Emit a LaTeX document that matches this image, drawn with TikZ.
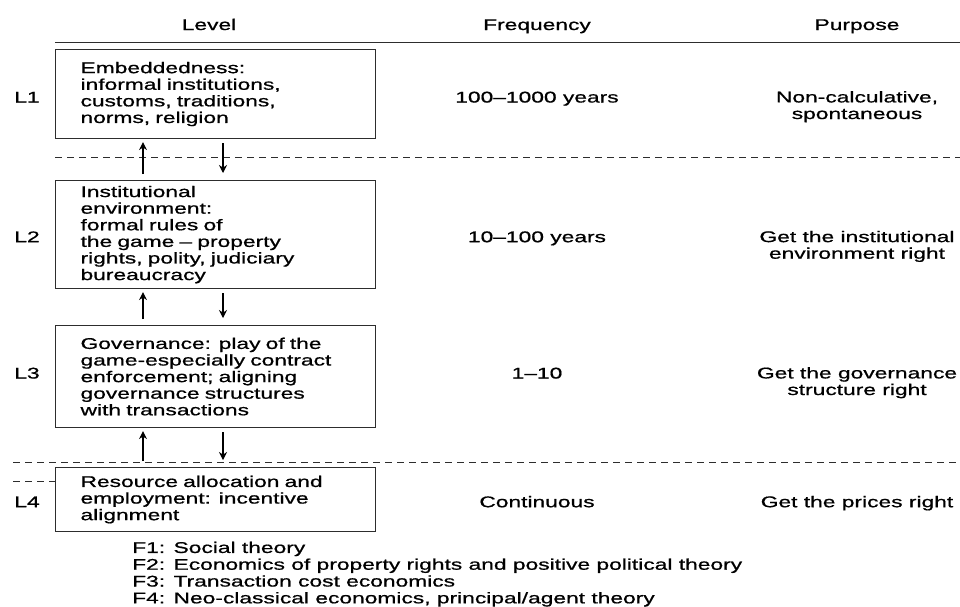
\documentclass[tikz,border=0pt]{standalone}
\usepackage{fontspec}
\setmainfont{Liberation Sans}[FakeStretch=1.47,FakeBold=0.8]
\usetikzlibrary{arrows.meta,calc,positioning}
\definecolor{rulecol}{RGB}{45,45,45}

\begin{document}
\begin{tikzpicture}[x=1pt,y=-1pt,
  every node/.style={font=\fontsize{15.5pt}{16.6pt}\selectfont,inner sep=0pt},
  levelbox/.style={draw=rulecol,line width=1.1pt,anchor=north west,
    minimum width=320pt,text width=270pt,inner xsep=25pt,align=left},
  cell/.style={anchor=base},
  flow/.style={-{Stealth[length=8pt,width=8pt]},line width=1.1pt}]
\useasboundingbox (0,0) rectangle (960,606);
% column heads
\node[cell] (hlevel) at (209,30) {Level};
\node[cell] (hfreq) at (537,30) {Frequency};
\node[cell] (hpurp) at (857,30) {Purpose};
\draw[rulecol,line width=0.9pt] (55,42) -- (960,42);
% the four level boxes
\node[levelbox,minimum height=89pt] (l1) at (55,49)
  {Embeddedness:\\ informal institutions,\\ customs, traditions,\\ norms, religion};
\node[levelbox,minimum height=108pt] (l2) at (55,180)
  {Institutional\\ environment:\\ formal rules of\\ the game -- property\\ rights, polity, judiciary\\ bureaucracy};
\node[levelbox,minimum height=102pt] (l3) at (55,325)
  {Governance: play of the\\ game-especially contract\\ enforcement; aligning\\ governance structures\\ with transactions};
\node[levelbox,minimum height=64pt] (l4) at (55,467)
  {Resource allocation and\\ employment: incentive\\ alignment};
% row labels, frequency, purpose
\node[cell] (r1) at (27,102.5) {L1};
\node[cell] (r2) at (27,242.2) {L2};
\node[cell] (r3) at (27,378.5) {L3};
\node[cell] (r4) at (27,507.2) {L4};
\node[cell] (f1) at (537,102.5) {100--1000 years};
\node[cell] (f2) at (537,242.2) {10--100 years};
\node[cell] (f3) at (537,378.5) {1--10};
\node[cell] (f4) at (537,507.2) {Continuous};
\node[align=center] (p1) at (857,106.7) {Non-calculative,\\ spontaneous};
\node[align=center] (p2) at (857,246.4) {Get the institutional\\ environment right};
\node[align=center] (p3) at (857,382.7) {Get the governance\\ structure right};
\node[cell] (p4) at (857,507.2) {Get the prices right};
% separators
\draw[rulecol,line width=0.9pt,dash pattern=on 7pt off 5pt] (55,157) -- (960,157);
\draw[rulecol,line width=0.9pt,dash pattern=on 7pt off 5pt] (13,462) -- (960,462);
\draw[rulecol,line width=0.9pt,dash pattern=on 7pt off 5pt] (13,481) -- (l4.west |- 0,481);
% feedback arrows
\foreach \a/\b in {l1/l2,l2/l3,l3/l4}{
  \draw[flow,shorten <=6pt,shorten >=3pt] ([xshift=88pt]\b.north west) -- ([xshift=88pt]\a.south west);
  \draw[flow,shorten <=4pt,shorten >=7pt] ([xshift=168pt]\a.south west) -- ([xshift=168pt]\b.north west);
}
% fields
\node[anchor=north west,align=left,font=\fontsize{15.5pt}{16.8pt}\selectfont] (fields) at (132,541.5)
  {F1: Social theory\\
   F2: Economics of property rights and positive political theory\\
   F3: Transaction cost economics\\
   F4: Neo-classical economics, principal/agent theory};
\end{tikzpicture}
\end{document}
